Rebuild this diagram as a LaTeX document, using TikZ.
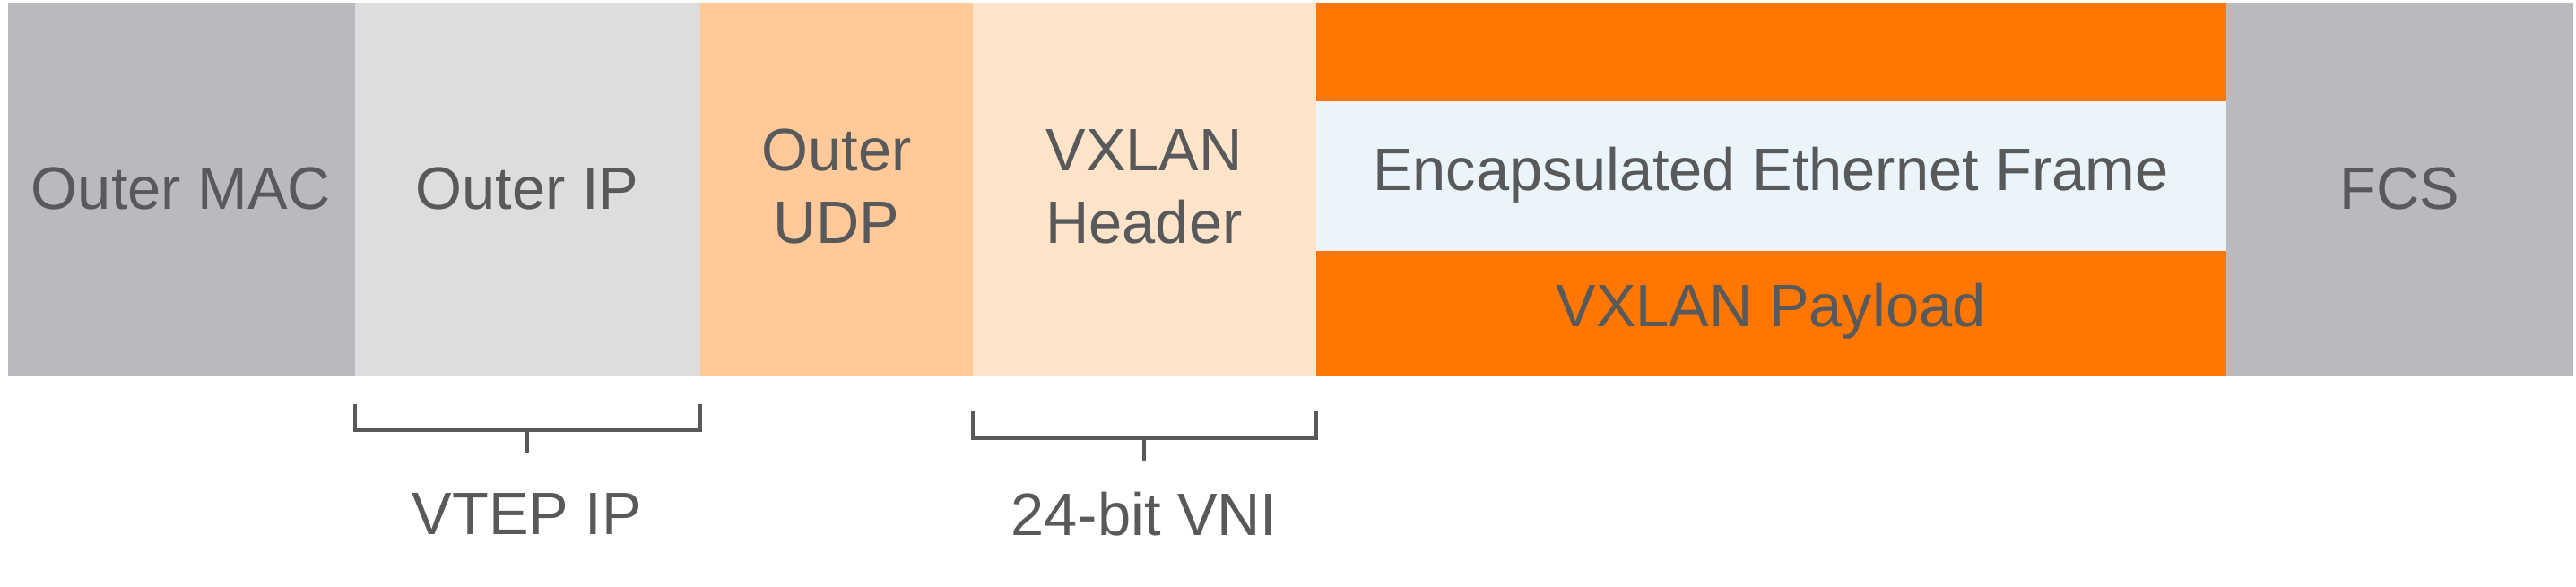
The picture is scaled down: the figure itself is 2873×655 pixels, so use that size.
\documentclass[tikz,border=0pt]{standalone}
\usepackage{fontspec}
\setmainfont{Liberation Sans}
\definecolor{txtgray}{HTML}{58595B}
\definecolor{macgray}{HTML}{B9BABD}
\definecolor{ipgray}{HTML}{DCDDDF}
\definecolor{udppeach}{HTML}{FFC999}
\definecolor{vxpeach}{HTML}{FFE4CA}
\definecolor{vxorange}{HTML}{FF7700}
\definecolor{framebl}{HTML}{EBF4FA}

\begin{document}
\begin{tikzpicture}[x=0.01cm, y=-0.01cm,
    field/.style={inner sep=0pt, text=txtgray, font=\fontsize{19pt}{23pt}\selectfont, align=center},
    bracket/.style={draw=txtgray, line width=1.3pt}]
        % Bounding box
        \useasboundingbox (0,0) rectangle (2873,655);

        % Header fields
        \fill[macgray] (9,3) rectangle (396,419);
        \fill[ipgray] (396,3) rectangle (781,419);
        \fill[udppeach] (781,3) rectangle (1085,419);
        \fill[vxpeach] (1085,3) rectangle (1468,419);
        \fill[vxorange] (1468,3) rectangle (2483,419);
        \fill[framebl] (1468,113) rectangle (2483,280);
        \fill[macgray] (2483,3) rectangle (2870,419);

        \node[field] (outermac) at (202,211) {Outer MAC};
        \node[field] (outerip) at (588,211) {Outer IP};
        \node[field] (outerudp) at (933,208) {Outer\\UDP};
        \node[field] (vxhdr) at (1276,208) {VXLAN\\Header};
        \node[field] (frame) at (1975,195) {Encapsulated Ethernet Frame};
        \node[field] (payload) at (1975,347) {VXLAN Payload};
        \node[field] (fcs) at (2676,211) {FCS};

        % Braces
        \draw[bracket] (396,451) -- (396,480) -- (781,480) -- (781,451);
        \draw[bracket] (588,480) -- (588,505);
        \draw[bracket] (1085,459) -- (1085,489) -- (1468,489) -- (1468,459);
        \draw[bracket] (1276,489) -- (1276,514);

        \node[field] (vtepip) at (588,574) {VTEP IP};
        \node[field] (vni) at (1276,574) {24-bit VNI};
    \end{tikzpicture}
\end{document}
